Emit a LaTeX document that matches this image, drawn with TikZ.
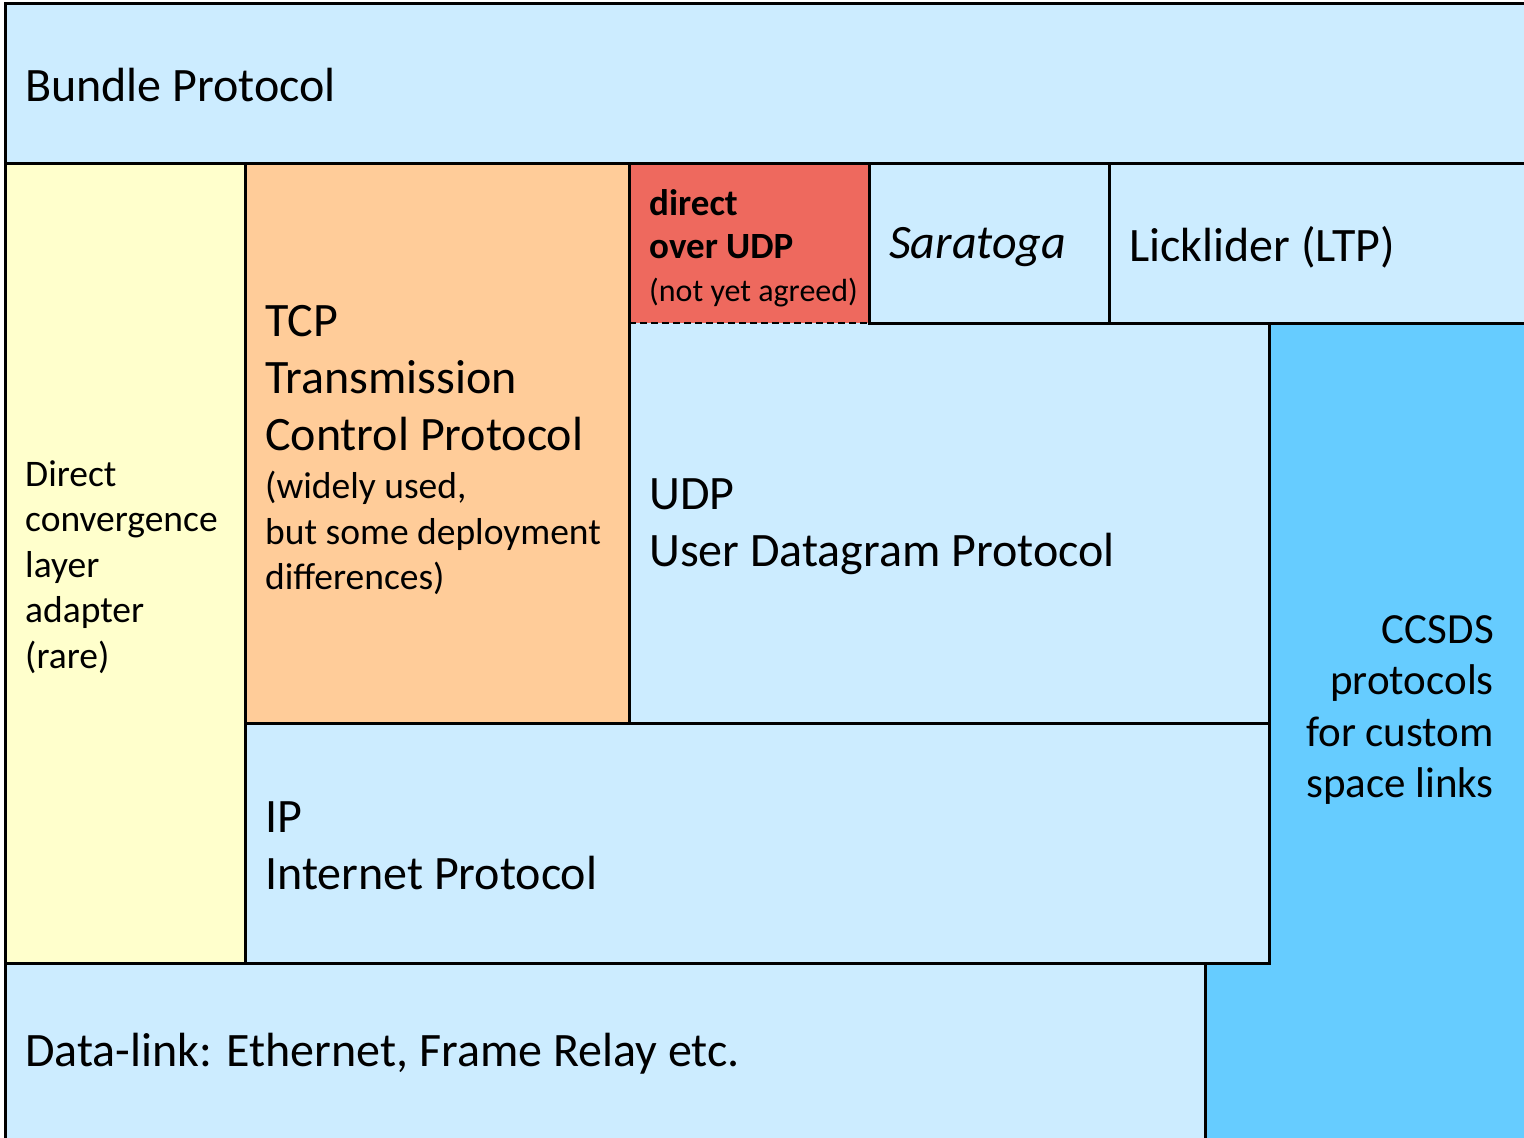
\documentclass[tikz,border=0pt]{standalone}
\usepackage{fontspec}
\setmainfont{Carlito}
\definecolor{lblue}{HTML}{CCECFF}
\definecolor{lyellow}{HTML}{FFFFCC}
\definecolor{lorange}{HTML}{FFCC99}
\definecolor{lred}{HTML}{EE695E}
\definecolor{mblue}{HTML}{66CCFF}
\tikzset{
  edge/.style={line width=3pt, line cap=rect},
  big/.style={font=\fontsize{48}{57}\selectfont, inner sep=0pt, align=left},
  mid/.style={font=\fontsize{37.5}{45.5}\selectfont, inner sep=0pt, align=left},
  small/.style={font=\fontsize{32}{43}\selectfont, inner sep=0pt, align=left},
  ccs/.style={font=\fontsize{43}{51.5}\selectfont, inner sep=0pt, align=right},
}
\begin{document}
\begin{tikzpicture}[x=1pt,y=-1pt]
\useasboundingbox (0,0) rectangle (1524,1138);
\clip (0,0) rectangle (1524,1138);
\fill[white] (0,0) rectangle (1524,1138);
% fills
\fill[lblue] (5,3) rectangle (1530,163);
\fill[lyellow] (5,163) rectangle (245,963);
\fill[lorange] (245,163) rectangle (629,723);
\fill[lred] (629,163) rectangle (869,323);
\fill[lblue] (869,163) rectangle (1530,323);
\fill[lblue] (629,323) rectangle (1269,723);
\fill[lblue] (245,723) rectangle (1269,963);
\fill[lblue] (5,963) rectangle (1205,1140);
\fill[mblue] (1269,323) -- (1530,323) -- (1530,1140) -- (1205,1140) -- (1205,963) -- (1269,963) -- cycle;
% borders
\draw[edge] (5,1145) -- (5,3) -- (1530,3);
\draw[edge] (5,163) -- (1530,163);
\draw[edge] (245,163) -- (245,963);
\draw[edge] (629,163) -- (629,723);
\draw[edge] (869,163) -- (869,323);
\draw[edge] (1109,163) -- (1109,323);
\draw[line width=2.5pt, dash pattern=on 7pt off 4pt] (629,323) -- (869,323);
\draw[edge] (869,323) -- (1530,323);
\draw[edge] (1269,323) -- (1269,963);
\draw[edge] (245,723) -- (1269,723);
\draw[edge] (5,963) -- (1269,963);
\draw[edge] (1205,963) -- (1205,1145);
% texts
\node[big, anchor=base west] (bp) at (25,101) {Bundle Protocol};
\node[mid, anchor=west] (dcl) at (25,567) {Direct\\convergence\\layer\\adapter\\(rare)};
\node[big, anchor=west] (tcp) at (265,378) {TCP\\Transmission\\Control Protocol};
\node[mid, anchor=west] (tcpn) at (265,533) {(widely used,\\but some deployment\\differences)};
\node[small, anchor=west] (dudp) at (649,248) {\fontsize{37}{43}\selectfont\textbf{direct}\\\fontsize{37}{43}\selectfont\textbf{over UDP}\\(not yet agreed)};
\node[big, anchor=west] (sar) at (889,247) {\textit{Saratoga}};
\node[big, anchor=west] (ltp) at (1129,247) {Licklider (LTP)};
\node[big, anchor=west] (udp) at (649,527) {UDP\\User Datagram Protocol};
\node[ccs, anchor=east] (ccsds) at (1494,710) {CCSDS\\protocols\\for custom\\space links};
\node[big, anchor=west] (ip) at (265,846) {IP\\Internet Protocol};
\node[big, anchor=west] (dl) at (25,1054) {Data-link: Ethernet, Frame Relay etc.};
\end{tikzpicture}
\end{document}
